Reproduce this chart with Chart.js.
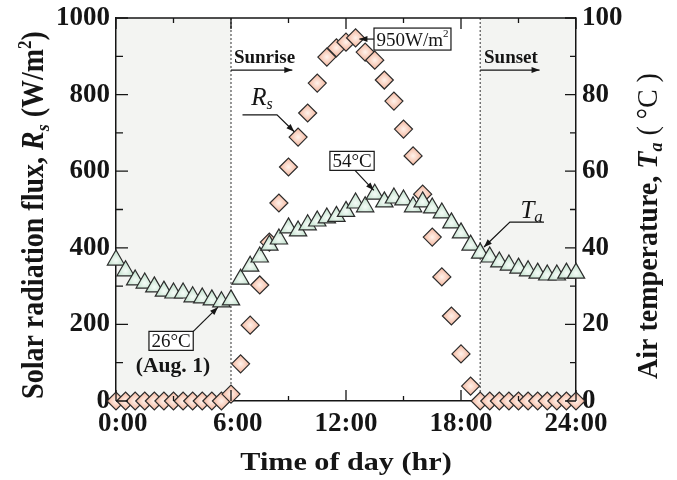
<!DOCTYPE html>
<html>
<head>
<meta charset="utf-8">
<script src="https://cdn.jsdelivr.net/npm/chart.js@4.4.1/dist/chart.umd.min.js"></script>
<style>
  body { margin: 0; background: #fff; }
  #wrap { width: 677px; height: 480px; }
</style>
</head>
<body>
<div id="wrap"><canvas id="chart"></canvas></div>
<script>
// time of day (h), one reading every 30 min
const hours = [
  0, 0.5, 1, 1.5, 2, 2.5, 3, 3.5, 4, 4.5, 5, 5.5,
  6, 6.5, 7, 7.5, 8, 8.5, 9, 9.5, 10, 10.5, 11, 11.5, 12, 12.5,
  13, 13.5, 14, 14.5, 15, 15.5, 16, 16.5, 17, 17.5, 18, 18.5,
  19, 19.5, 20, 20.5, 21, 21.5, 22, 22.5, 23, 23.5, 24
];
// solar radiation flux Rs (W/m2)
const radiation = [
  0, 0, 0, 0, 0, 0, 0, 0, 0, 0, 0, 0,
  18, 97, 198, 303, 415, 517, 611, 689, 752, 830, 898, 922, 937, 948,
  911, 890, 838, 783, 710, 640, 540, 428, 324, 222, 123, 39,
  0, 0, 0, 0, 0, 0, 0, 0, 0, 0, 0
];
// air temperature Ta (C)
const airTemp = [
  36.8, 34, 31.6, 30.8, 29.8, 28.7, 28.2, 28.2, 27.2, 26.9, 26.4, 25.9,
  26.4, 31.8, 35.2, 37.6, 40.7, 42.3, 45.2, 44.4, 46, 47, 47.8, 48.2, 49.5, 51.7,
  50.7, 54, 52, 53, 52.5, 50.7, 52, 50.4, 49.1, 46.5, 43.9, 40.7,
  38.6, 37.6, 36.3, 35.5, 34.7, 34, 33.4, 32.9, 32.9, 33.4, 33.4
];

const xTickHours = [0, 6, 12, 18, 24];
const xTickLabels = ['0:00', '6:00', '12:00', '18:00', '24:00'];
const xMinorHours = [3, 9, 15, 21];
const radTicks = [0, 200, 400, 600, 800, 1000];
const radMinor = [100, 300, 500, 700, 900];
const tempTicks = [0, 20, 40, 60, 80, 100];
const tempMinor = [10, 30, 50, 70, 90];
const sunrise = 6;
const sunset = 19;

const SERIF = '"Liberation Serif", "Times New Roman", serif';
const INK = '#151515';

function pointFill(inner, outer) {
  return (c) => {
    const chart = c.chart;
    const xs = chart.scales.x;
    const ys = chart.scales[c.dataset.yAxisID];
    if (!xs || !ys || !c.raw) return outer;
    const px = xs.getPixelForValue(c.raw.x);
    const py = ys.getPixelForValue(c.raw.y);
    if (!isFinite(px) || !isFinite(py)) return outer;
    const g = chart.ctx.createRadialGradient(px, py, 0, px, py, 10);
    g.addColorStop(0, inner);
    g.addColorStop(1, outer);
    return g;
  };
}

// draw a run of differently styled text pieces centred on (x, y)
function drawRich(ctx, parts, x, y, angle, sx, sy, align) {
  ctx.save();
  ctx.translate(x, y);
  ctx.rotate(angle);
  ctx.scale(sx, sy);
  ctx.textBaseline = 'alphabetic';
  ctx.textAlign = 'left';
  let total = 0;
  parts.forEach(p => { ctx.font = p.font; p.w = ctx.measureText(p.text).width; total += p.w; });
  let cx = align === 'left' ? 0 : -total / 2;
  parts.forEach(p => {
    ctx.font = p.font;
    ctx.fillText(p.text, cx, p.dy || 0);
    cx += p.w;
  });
  ctx.restore();
  return total * sx;
}

function arrow(ctx, pts) {
  ctx.beginPath();
  ctx.moveTo(pts[0][0], pts[0][1]);
  for (let i = 1; i < pts.length; i++) ctx.lineTo(pts[i][0], pts[i][1]);
  ctx.stroke();
  const [x1, y1] = pts[pts.length - 2];
  const [x2, y2] = pts[pts.length - 1];
  const a = Math.atan2(y2 - y1, x2 - x1);
  ctx.beginPath();
  ctx.moveTo(x2, y2);
  ctx.lineTo(x2 - 8 * Math.cos(a) + 3 * Math.sin(a), y2 - 8 * Math.sin(a) - 3 * Math.cos(a));
  ctx.lineTo(x2 - 8 * Math.cos(a) - 3 * Math.sin(a), y2 - 8 * Math.sin(a) + 3 * Math.cos(a));
  ctx.closePath();
  ctx.fill();
}

function boxLabel(ctx, parts, left, cy, h) {
  ctx.save();
  let total = 0;
  parts.forEach(p => { ctx.font = p.font; p.w = ctx.measureText(p.text).width; total += p.w; });
  const w = total + 5;
  ctx.fillStyle = '#fff';
  ctx.fillRect(left, cy - h / 2, w, h);
  ctx.lineWidth = 1.2;
  ctx.strokeRect(left, cy - h / 2, w, h);
  ctx.fillStyle = INK;
  drawRich(ctx, parts, left + 2.5, cy + 6.5, 0, 1, 1, 'left');
  ctx.restore();
}

const decorPlugin = {
  id: 'decor',
  beforeDraw(chart) {
    const { ctx, chartArea: a, scales: { x } } = chart;
    const xr = x.getPixelForValue(sunrise);
    const xs = x.getPixelForValue(sunset);
    ctx.save();
    ctx.fillStyle = '#f3f4f2';
    ctx.fillRect(a.left, a.top, xr - a.left, a.bottom - a.top);
    ctx.fillRect(xs, a.top, a.right - xs, a.bottom - a.top);
    ctx.strokeStyle = '#333';
    ctx.lineWidth = 1;
    ctx.setLineDash([2, 2]);
    [xr, xs].forEach(px => {
      ctx.beginPath();
      ctx.moveTo(px, a.top);
      ctx.lineTo(px, a.bottom);
      ctx.stroke();
    });
    ctx.restore();
  },
  afterDraw(chart) {
    const { ctx, chartArea: a, scales: { x, y, y1 } } = chart;
    const X = h => x.getPixelForValue(h);
    const Y = v => y.getPixelForValue(v);
    ctx.save();
    ctx.strokeStyle = INK;
    ctx.fillStyle = INK;

    // top frame line
    ctx.lineWidth = 1.5;
    ctx.beginPath();
    ctx.moveTo(a.left, a.top);
    ctx.lineTo(a.right, a.top);
    ctx.stroke();

    // inward tick marks
    ctx.lineWidth = 1.3;
    ctx.beginPath();
    const xt = (vals, len) => vals.forEach(v => {
      const p = X(v);
      ctx.moveTo(p, a.bottom); ctx.lineTo(p, a.bottom - len);
      ctx.moveTo(p, a.top); ctx.lineTo(p, a.top + len);
    });
    xt(xTickHours, 11);
    xt(xMinorHours, 5);
    radTicks.forEach(v => { const p = Y(v); ctx.moveTo(a.left, p); ctx.lineTo(a.left + 12, p); });
    radMinor.forEach(v => { const p = Y(v); ctx.moveTo(a.left, p); ctx.lineTo(a.left + 7, p); });
    tempTicks.forEach(v => { const p = y1.getPixelForValue(v); ctx.moveTo(a.right, p); ctx.lineTo(a.right - 11, p); });
    tempMinor.forEach(v => { const p = y1.getPixelForValue(v); ctx.moveTo(a.right, p); ctx.lineTo(a.right - 6, p); });
    ctx.stroke();

    // axis titles
    const B = 'bold 28px ' + SERIF;
    const BI = 'italic bold 28px ' + SERIF;
    const BIs = 'italic bold 18px ' + SERIF;
    drawRich(ctx, [
      { text: 'Solar radiation flux, ', font: B },
      { text: 'R', font: BI },
      { text: 's', font: BIs, dy: 5 },
      { text: ' (W/m', font: B },
      { text: '2', font: 'bold 17px ' + SERIF, dy: -11 },
      { text: ')', font: B }
    ], 43, 215, -Math.PI / 2, 1, 1.1);
    drawRich(ctx, [
      { text: 'Air temperature, ', font: B },
      { text: 'T', font: BI },
      { text: 'a', font: BIs, dy: 5 },
      { text: ' ( \u00B0C )', font: '28px ' + SERIF }
    ], 657, 226, -Math.PI / 2, 1, 1.08);
    drawRich(ctx, [{ text: 'Time of day (hr)', font: 'bold 26px ' + SERIF }],
      346, 470, 0, 1.16, 1);

    // sunrise / sunset markers
    const SB = 'bold 19px ' + SERIF;
    drawRich(ctx, [{ text: 'Sunrise', font: SB }], X(6.15), Y(882), 0, 1, 1, 'left');
    drawRich(ctx, [{ text: 'Sunset', font: SB }], X(19.2), Y(882), 0, 1, 1, 'left');
    ctx.lineWidth = 1.2;
    arrow(ctx, [[X(sunrise), Y(864)], [X(9.2), Y(864)]]);
    arrow(ctx, [[X(sunset), Y(864)], [X(22.1), Y(864)]]);

    // series labels
    drawRich(ctx, [
      { text: 'R', font: 'italic 25px ' + SERIF },
      { text: 's', font: 'italic 16px ' + SERIF, dy: 4 }
    ], X(7.05), Y(773), 0, 1, 1, 'left');
    arrow(ctx, [[X(6.6), Y(747)], [X(8.4), Y(747)], [X(9.3), Y(703)]]);

    drawRich(ctx, [
      { text: 'T', font: 'italic 25px ' + SERIF },
      { text: 'a', font: 'italic 17px ' + SERIF, dy: 4 }
    ], X(21.1), Y(478), 0, 1, 1, 'left');
    arrow(ctx, [[X(22.33), Y(467)], [X(20.55), Y(467)], [X(19.2), Y(402)]]);

    // value call-outs
    const R = '19px ' + SERIF;
    boxLabel(ctx, [
      { text: '950W/m', font: R },
      { text: '2', font: '11px ' + SERIF, dy: -9 }
    ], X(13.46), Y(945), 22);
    arrow(ctx, [[X(13.46), Y(945)], [X(12.7), Y(945)]]);

    boxLabel(ctx, [{ text: '54\u00B0C', font: R }], X(11.16), Y(627), 19);
    arrow(ctx, [[X(12.47), Y(602)], [X(13.45), Y(550)]]);

    boxLabel(ctx, [{ text: '26\u00B0C', font: R }], X(1.72), Y(157), 19);
    arrow(ctx, [[X(4.02), Y(181)], [X(5.32), Y(245)]]);
    drawRich(ctx, [{ text: '(Aug. 1)', font: 'bold 20px ' + SERIF }], X(2.97), Y(76), 0, 1.08, 1);

    ctx.restore();
  }
};

const tickFont = { family: SERIF, size: 27, weight: 'bold' };

new Chart(document.getElementById('chart'), {
  type: 'scatter',
  data: {
    datasets: [
      {
        label: 'Ta',
        data: hours.map((h, i) => ({ x: h, y: airTemp[i] })),
        yAxisID: 'y1',
        order: 1,
        pointStyle: 'triangle',
        pointRadius: 10,
        borderWidth: 1.2,
        borderColor: '#2b2b2b',
        backgroundColor: pointFill('#f6fcf8', '#b8dcc5'),
        clip: false
      },
      {
        label: 'Rs',
        data: hours.map((h, i) => ({ x: h, y: radiation[i] })),
        yAxisID: 'y',
        order: 2,
        pointStyle: 'rectRot',
        pointRadius: 9,
        borderWidth: 1.2,
        borderColor: '#2b2b2b',
        backgroundColor: pointFill('#fff3ec', '#f3ad92'),
        clip: false
      }
    ]
  },
  options: {
    responsive: true,
    maintainAspectRatio: false,
    animation: false,
    layout: { padding: { top: 18, left: 0, right: 0, bottom: 0 } },
    plugins: { legend: { display: false }, tooltip: { enabled: false } },
    scales: {
      x: {
        type: 'linear',
        position: 'bottom',
        min: 0,
        max: 24,
        afterBuildTicks: s => { s.ticks = xTickHours.map(v => ({ value: v })); },
        afterFit: s => { s.height = 79; s.paddingLeft = 0; s.paddingRight = 0; },
        ticks: {
          autoSkip: false,
          maxRotation: 0,
          padding: 7,
          color: INK,
          font: tickFont,
          callback: v => {
            const t = xTickLabels[xTickHours.indexOf(v)];
            return t.length < 5 ? '\u2007' + t : t;
          }
        },
        grid: { display: false, drawTicks: false },
        border: { color: INK, width: 1.5 }
      },
      y: {
        position: 'left',
        min: 0,
        max: 1000,
        afterBuildTicks: s => { s.ticks = radTicks.map(v => ({ value: v })); },
        afterFit: s => { s.width = 116; s.paddingTop = 0; s.paddingBottom = 0; },
        ticks: { padding: 6, color: INK, font: tickFont, callback: v => String(v) },
        grid: { display: false, drawTicks: false },
        border: { color: INK, width: 1.5 }
      },
      y1: {
        position: 'right',
        min: 0,
        max: 100,
        afterBuildTicks: s => { s.ticks = tempTicks.map(v => ({ value: v })); },
        afterFit: s => { s.width = 101; s.paddingTop = 0; s.paddingBottom = 0; },
        ticks: { padding: 6, color: INK, font: tickFont, callback: v => String(v) },
        grid: { display: false, drawTicks: false },
        border: { color: INK, width: 1.5 }
      }
    }
  },
  plugins: [decorPlugin]
});
</script>
</body>
</html>
